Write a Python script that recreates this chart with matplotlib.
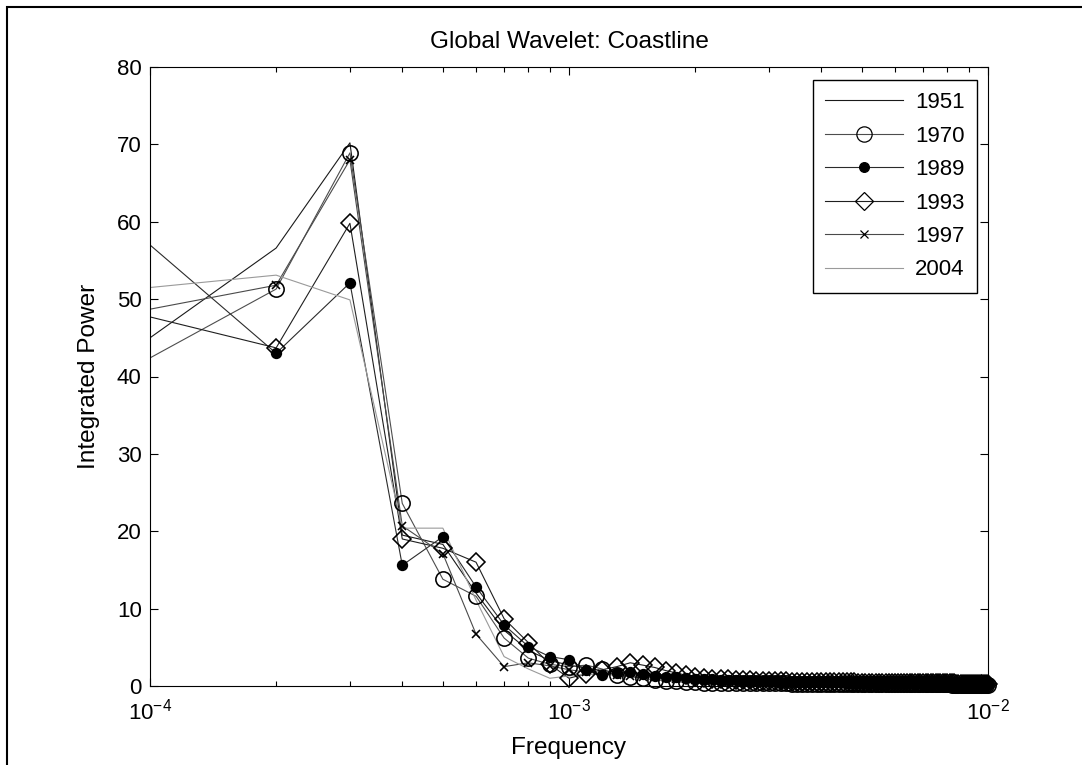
import numpy as np
import matplotlib as mpl
mpl.use("Agg")
import matplotlib.pyplot as plt
from matplotlib.patches import Rectangle
from matplotlib.ticker import LogLocator, NullFormatter

plt.rcParams.update(
    {
        "font.family": ["Liberation Sans", "DejaVu Sans"],
        "font.size": 16,
        "mathtext.default": "regular",
        "axes.linewidth": 0.8,
        "xtick.direction": "in",
        "ytick.direction": "in",
        "xtick.top": True,
        "ytick.right": True,
        "xtick.major.size": 6,
        "ytick.major.size": 6,
        "xtick.minor.size": 3.5,
        "xtick.major.width": 0.8,
        "ytick.major.width": 0.8,
        "xtick.minor.width": 0.8,
        "lines.linewidth": 0.8,
    }
)

# frequency grid: one point below the plotted range, then 2e-4 .. 1e-2 in steps of 1e-4
freq = np.concatenate([[5e-5], np.arange(2, 101) * 1e-4])

years = ["1951", "1970", "1989", "1993", "1997", "2004"]

p1951 = [
    33.4,
    56.6, 70.2, 19.5, 18.3, 12.0, 7.2, 4.6, 3.3, 2.7, 2.3,
    2.0, 1.8, 1.6, 1.5, 1.4, 1.3, 1.2, 1.1, 1.0, 0.95,
    0.9, 0.85, 0.8, 0.78, 0.75, 0.72, 0.7, 0.68, 0.66, 0.64,
    0.62, 0.6, 0.58, 0.57, 0.56, 0.55, 0.54, 0.53, 0.52, 0.51,
    0.5, 0.49, 0.48, 0.47, 0.46, 0.45, 0.44, 0.44, 0.43, 0.42,
    0.42, 0.41, 0.4, 0.4, 0.39, 0.38, 0.38, 0.37, 0.37, 0.36,
    0.36, 0.35, 0.35, 0.34, 0.34, 0.33, 0.33, 0.33, 0.32, 0.32,
    0.31, 0.31, 0.31, 0.3, 0.3, 0.3, 0.29, 0.29, 0.29, 0.28,
    0.28, 0.28, 0.27, 0.27, 0.27, 0.27, 0.26, 0.26, 0.26, 0.25,
    0.25, 0.25, 0.25, 0.24, 0.24, 0.24, 0.24, 0.23, 0.23,
]
p1970 = [
    33.5,
    51.3, 68.9, 23.6, 13.8, 11.6, 6.2, 3.6, 2.8, 2.5, 2.7,
    2.2, 1.4, 1.2, 1.0, 0.8, 0.7, 0.6, 0.5, 0.5, 0.45,
    0.45, 0.42, 0.4, 0.4, 0.38, 0.37, 0.36, 0.35, 0.35, 0.34,
    0.33, 0.33, 0.32, 0.32, 0.31, 0.31, 0.3, 0.3, 0.3, 0.29,
    0.29, 0.29, 0.28, 0.28, 0.28, 0.27, 0.27, 0.27, 0.26, 0.26,
    0.26, 0.26, 0.25, 0.25, 0.25, 0.25, 0.24, 0.24, 0.24, 0.24,
    0.23, 0.23, 0.23, 0.23, 0.22, 0.22, 0.22, 0.22, 0.22, 0.21,
    0.21, 0.21, 0.21, 0.21, 0.2, 0.2, 0.2, 0.2, 0.2, 0.2,
    0.19, 0.19, 0.19, 0.19, 0.19, 0.19, 0.18, 0.18, 0.18, 0.18,
    0.18, 0.18, 0.18, 0.17, 0.17, 0.17, 0.17, 0.17, 0.17,
]
p1989 = [
    71.0,
    43.0, 52.1, 15.6, 19.3, 12.8, 7.9, 5.1, 3.8, 3.4, 2.1,
    1.4, 1.7, 1.8, 1.5, 1.3, 1.2, 1.1, 1.0, 0.95, 0.9,
    0.85, 0.8, 0.76, 0.72, 0.7, 0.68, 0.66, 0.64, 0.62, 0.6,
    0.58, 0.57, 0.56, 0.55, 0.54, 0.53, 0.52, 0.51, 0.5, 0.49,
    0.48, 0.47, 0.46, 0.46, 0.45, 0.44, 0.44, 0.43, 0.43, 0.42,
    0.42, 0.41, 0.41, 0.4, 0.4, 0.39, 0.39, 0.38, 0.38, 0.38,
    0.37, 0.37, 0.36, 0.36, 0.36, 0.35, 0.35, 0.35, 0.34, 0.34,
    0.34, 0.33, 0.33, 0.33, 0.33, 0.32, 0.32, 0.32, 0.32, 0.31,
    0.31, 0.31, 0.31, 0.3, 0.3, 0.3, 0.3, 0.3, 0.29, 0.29,
    0.29, 0.29, 0.29, 0.28, 0.28, 0.28, 0.28, 0.28, 0.28,
]
p1993 = [
    51.7,
    43.7, 59.8, 19.0, 17.8, 16.0, 8.7, 5.6, 2.8, 1.0, 1.6,
    2.1, 2.5, 3.0, 2.7, 2.4, 2.0, 1.7, 1.4, 1.2, 1.05,
    0.95, 0.9, 0.85, 0.8, 0.76, 0.72, 0.7, 0.67, 0.65, 0.63,
    0.61, 0.6, 0.58, 0.57, 0.56, 0.55, 0.54, 0.53, 0.52, 0.51,
    0.5, 0.49, 0.48, 0.48, 0.47, 0.46, 0.46, 0.45, 0.44, 0.44,
    0.43, 0.43, 0.42, 0.42, 0.41, 0.41, 0.4, 0.4, 0.4, 0.39,
    0.39, 0.38, 0.38, 0.38, 0.37, 0.37, 0.37, 0.36, 0.36, 0.36,
    0.35, 0.35, 0.35, 0.35, 0.34, 0.34, 0.34, 0.34, 0.33, 0.33,
    0.33, 0.33, 0.32, 0.32, 0.32, 0.32, 0.32, 0.31, 0.31, 0.31,
    0.31, 0.31, 0.3, 0.3, 0.3, 0.3, 0.3, 0.3, 0.29,
]
p1997 = [
    45.6,
    51.8, 68.0, 20.7, 17.1, 6.7, 2.5, 3.0, 2.6, 2.1, 1.8,
    1.6, 1.4, 1.3, 1.2, 1.1, 1.0, 0.9, 0.85, 0.8, 0.75,
    0.7, 0.66, 0.63, 0.6, 0.58, 0.56, 0.54, 0.52, 0.5, 0.49,
    0.48, 0.47, 0.46, 0.45, 0.44, 0.43, 0.42, 0.41, 0.41, 0.4,
    0.4, 0.39, 0.38, 0.38, 0.37, 0.37, 0.36, 0.36, 0.35, 0.35,
    0.35, 0.34, 0.34, 0.33, 0.33, 0.33, 0.32, 0.32, 0.32, 0.31,
    0.31, 0.31, 0.3, 0.3, 0.3, 0.3, 0.29, 0.29, 0.29, 0.29,
    0.28, 0.28, 0.28, 0.28, 0.27, 0.27, 0.27, 0.27, 0.27, 0.26,
    0.26, 0.26, 0.26, 0.26, 0.25, 0.25, 0.25, 0.25, 0.25, 0.25,
    0.24, 0.24, 0.24, 0.24, 0.24, 0.24, 0.23, 0.23, 0.23,
]
p2004 = [
    49.9,
    53.1, 49.9, 20.4, 20.4, 11.1, 3.8, 2.2, 1.0, 1.3, 1.5,
    1.5, 1.4, 1.3, 1.2, 1.1, 1.0, 0.95, 0.9, 0.85, 0.8,
    0.75, 0.7, 0.67, 0.64, 0.61, 0.58, 0.56, 0.54, 0.52, 0.5,
    0.49, 0.48, 0.47, 0.46, 0.45, 0.44, 0.43, 0.42, 0.41, 0.4,
    0.4, 0.39, 0.38, 0.38, 0.37, 0.36, 0.36, 0.35, 0.35, 0.34,
    0.34, 0.34, 0.33, 0.33, 0.32, 0.32, 0.32, 0.31, 0.31, 0.31,
    0.3, 0.3, 0.3, 0.3, 0.29, 0.29, 0.29, 0.28, 0.28, 0.28,
    0.28, 0.27, 0.27, 0.27, 0.27, 0.27, 0.26, 0.26, 0.26, 0.26,
    0.26, 0.25, 0.25, 0.25, 0.25, 0.25, 0.24, 0.24, 0.24, 0.24,
    0.24, 0.24, 0.23, 0.23, 0.23, 0.23, 0.23, 0.23, 0.22,
]

series = [p1951, p1970, p1989, p1993, p1997, p2004]

# (marker, marker size, face colour, line colour)
styles = [
    ("None", 0, "none", "#1a1a1a"),
    ("o", 11, "none", "#4d4d4d"),
    ("o", 7, "k", "#2b2b2b"),
    ("D", 9, "none", "#1f1f1f"),
    ("x", 6, "none", "#4a4a4a"),
    ("None", 0, "none", "#9a9a9a"),
]

LABEL_SIZE = 17.6

fig = plt.figure(figsize=(10.82, 7.65), dpi=100)
ax = fig.add_axes([150 / 1082, 1 - 686 / 765, (988 - 150) / 1082, (686 - 67) / 765])

for year, vals, (mk, ms, fc, lc) in zip(years, series, styles):
    vals = np.asarray(vals)
    # line is clipped to the axes
    ax.plot(freq, vals, color=lc, linewidth=0.8, zorder=2)
    # markers are drawn whole, even where they hang over the bottom spine
    if mk != "None":
        ax.plot(
            freq[1:], vals[1:],
            linestyle="none",
            marker=mk,
            markersize=ms,
            markerfacecolor=fc,
            markeredgecolor="k",
            markeredgewidth=1.15,
            clip_on=False,
            zorder=3,
        )
    # proxy handle for the legend
    ax.plot([], [], color=lc, linewidth=0.8, marker=mk, markersize=ms,
            markerfacecolor=fc, markeredgecolor="k", markeredgewidth=0.9, label=year)

ax.set_xscale("log")
ax.set_xlim(1e-4, 1e-2)
ax.set_ylim(0, 80)
ax.set_yticks(np.arange(0, 81, 10))
ax.xaxis.set_minor_locator(LogLocator(base=10, subs=np.arange(2, 10)))
ax.xaxis.set_minor_formatter(NullFormatter())
ax.tick_params(axis="both", which="both", labelsize=16, pad=6)
ax.tick_params(axis="x", which="major", pad=9)

ax.set_title("Global Wavelet: Coastline", fontsize=LABEL_SIZE, pad=14)
ax.set_xlabel("Frequency", fontsize=LABEL_SIZE, labelpad=9)
ax.set_ylabel("Integrated Power", fontsize=LABEL_SIZE, labelpad=12)

leg = ax.legend(
    loc="upper right",
    bbox_to_anchor=((977 - 150) / (988 - 150), (686 - 80) / (686 - 67)),
    borderaxespad=0,
    fontsize=16,
    handlelength=3.5,
    handletextpad=0.55,
    labelspacing=0.56,
    borderpad=0.55,
    fancybox=False,
    framealpha=1,
)
leg.get_frame().set_edgecolor("k")
leg.get_frame().set_linewidth(1.0)
leg.set_zorder(5)

# frame round the whole figure
fig.add_artist(
    Rectangle(
        (7 / 1082, -0.1),
        1.2,
        1.1 - 7 / 765,
        transform=fig.transFigure,
        fill=False,
        edgecolor="k",
        linewidth=1.5,
    )
)

fig.savefig("out.png", dpi=100)
